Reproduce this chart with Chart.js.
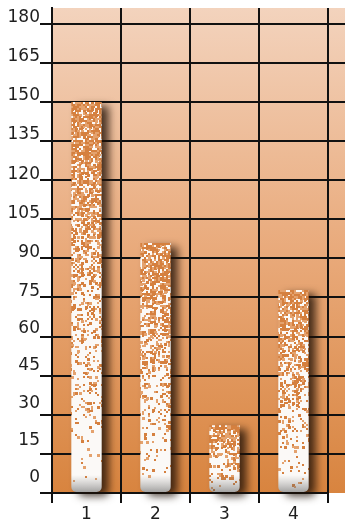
<!DOCTYPE html>
<html>
<head>
<meta charset="utf-8">
<script src="https://cdn.jsdelivr.net/npm/chart.js@4.4.1/dist/chart.umd.min.js"></script>
<style>
  html, body { margin: 0; padding: 0; background: #fff; }
  #wrap { width: 345px; height: 523px; }
</style>
</head>
<body>
<div id="wrap"><canvas id="barChart"></canvas></div>
<script>
// ---- data ----
const categories = ['1', '2', '3', '4'];
const values = [150, 96, 26, 78];
const yTicks = [0, 15, 30, 45, 60, 75, 90, 105, 120, 135, 150, 165, 180];
const yMax = 186;

const LINE = '#111';
const INK = '#1e1e1e';
const FONT = "'DejaVu Sans', Verdana, sans-serif";

// small seeded generator, only used for the speckle texture of the bars
function lcg(seed) {
  return () => {
    seed = (seed * 1664525 + 1013904223) >>> 0;
    return seed / 4294967296;
  };
}

function makeTexture(w, h, seed) {
  const c = document.createElement('canvas');
  c.width = w; c.height = h;
  const g = c.getContext('2d');
  g.fillStyle = '#fbf9f7';
  g.fillRect(0, 0, w, h);
  const r = lcg(seed);
  for (let py = 0; py < h; py += 2) {
    const t = py / h;
    const p = 0.82 * Math.pow(1 - t, 1.25);
    for (let px = 0; px < w; px += 2) {
      const v = r();
      if (v < p) {
        g.fillStyle = v < p * 0.6 ? '#d5803f' : '#e4a26e';
        const s = r() < 0.3 ? 3 : 2;
        g.fillRect(px, py, s, s);
      }
    }
  }
  // soft grey at the foot of the bar
  const gr = g.createLinearGradient(0, h - 18, 0, h);
  gr.addColorStop(0, 'rgba(120,120,120,0)');
  gr.addColorStop(1, 'rgba(80,80,80,0.55)');
  g.fillStyle = gr;
  g.fillRect(0, h - 18, w, 18);
  return c;
}

function barFill(ctx) {
  const chart = ctx.chart;
  const xs = chart.scales.x, ys = chart.scales.y;
  if (!xs || !ys || ctx.raw == null) return '#fbf9f7';
  const top = Math.round(ys.getPixelForValue(ctx.raw));
  const base = Math.round(ys.getPixelForValue(0));
  const cx = xs.getPixelForValue(ctx.dataIndex);
  if (!isFinite(top) || !isFinite(base) || !isFinite(cx)) return '#fbf9f7';
  const h = Math.max(4, base - top);
  const tex = makeTexture(48, h, 7 + ctx.dataIndex * 131);
  const pat = chart.ctx.createPattern(tex, 'no-repeat');
  pat.setTransform(new DOMMatrix().translate(Math.round(cx - 24), top));
  return pat;
}

// peach-to-orange panel, with horizontal rules carried on to the page edge
const panel = {
  id: 'panel',
  beforeDraw(chart) {
    const { ctx, chartArea: a, width } = chart;
    if (!a || !isFinite(a.top) || !isFinite(a.bottom)) return;
    const grad = ctx.createLinearGradient(0, a.top, 0, a.bottom);
    grad.addColorStop(0, '#f3d3bd');
    grad.addColorStop(0.5, '#e9aa7b');
    grad.addColorStop(1, '#d8843f');
    ctx.save();
    ctx.fillStyle = grad;
    ctx.fillRect(a.left, a.top, width - a.left, a.bottom - a.top);
    ctx.strokeStyle = LINE;
    ctx.lineWidth = 2;
    yTicks.forEach(v => {
      if (v === 0) return;
      const y = Math.round(chart.scales.y.getPixelForValue(v));
      ctx.beginPath();
      ctx.moveTo(a.right, y);
      ctx.lineTo(width, y);
      ctx.stroke();
    });
    ctx.restore();
  }
};

const barShadow = {
  id: 'barShadow',
  beforeDatasetsDraw(chart) {
    const c = chart.ctx;
    c.save();
    c.shadowColor = 'rgba(30,15,5,0.8)';
    c.shadowBlur = 9;
    c.shadowOffsetX = 7;
    c.shadowOffsetY = 4;
  },
  afterDatasetsDraw(chart) {
    chart.ctx.restore();
  }
};

// how far each number sits above its rule (px), a little more near the bottom
const liftFor = v => (v >= 75 ? 6 : 6 + (75 - v) / 75 * 9);

new Chart(document.getElementById('barChart'), {
  type: 'bar',
  data: {
    labels: categories,
    datasets: [{
      data: values,
      backgroundColor: barFill,
      borderWidth: 0,
      borderRadius: { topLeft: 0, topRight: 0, bottomLeft: 5, bottomRight: 5 },
      borderSkipped: false,
      barPercentage: 0.44,
      categoryPercentage: 1,
      clip: false
    }]
  },
  options: {
    maintainAspectRatio: false,
    animation: false,
    events: [],
    layout: { padding: { top: 8, right: 17, left: 0, bottom: 0 } },
    plugins: { legend: { display: false }, tooltip: { enabled: false } },
    scales: {
      x: {
        grid: { color: LINE, lineWidth: 2, tickLength: 10, offset: true },
        border: { color: LINE, width: 2 },
        ticks: { color: INK, font: { family: FONT, size: 17 }, padding: 1 },
        afterFit: s => { s.height = 30; s.paddingLeft = 0; s.paddingRight = 0; }
      },
      y: {
        min: 0,
        max: yMax,
        afterBuildTicks: s => { s.ticks = yTicks.map(v => ({ value: v })); },
        grid: { color: LINE, lineWidth: 2, tickLength: 12 },
        border: { color: LINE, width: 2 },
        ticks: {
          color: INK,
          padding: 0,
          autoSkip: false,
          font: c => ({ family: FONT, size: 17, lineHeight: (2 * liftFor(c.tick ? c.tick.value : 90)) / 17 }),
          // empty second line lifts the number above its rule
          callback: v => [String(v), '']
        },
        afterFit: s => { s.width = 52; s.paddingTop = 0; s.paddingBottom = 0; }
      }
    }
  },
  plugins: [panel, barShadow]
});
</script>
</body>
</html>
